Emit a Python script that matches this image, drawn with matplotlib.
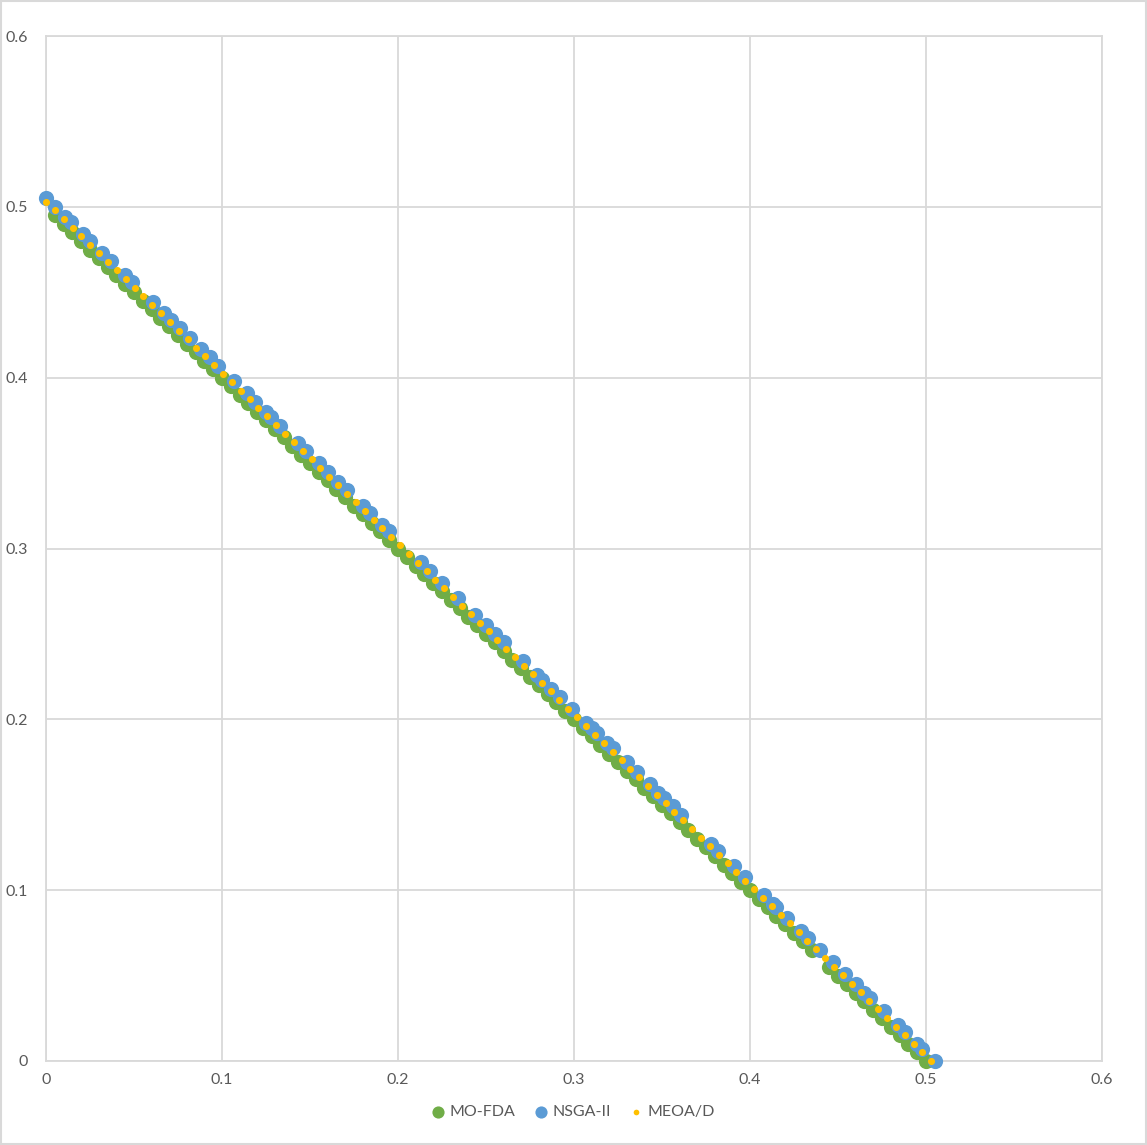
import matplotlib
matplotlib.use("Agg")
import matplotlib.pyplot as plt
from matplotlib.patches import Rectangle

# MO-FDA
mofda_x = [0.005, 0.010, 0.015, 0.020, 0.025, 0.030, 0.035, 0.040, 0.045, 0.050,
           0.055, 0.060, 0.065, 0.070, 0.075, 0.080, 0.085, 0.090, 0.095, 0.100,
           0.105, 0.110, 0.115, 0.120, 0.125, 0.130, 0.135, 0.140, 0.145, 0.150,
           0.155, 0.160, 0.165, 0.170, 0.175, 0.180, 0.185, 0.190, 0.195, 0.200,
           0.205, 0.210, 0.215, 0.220, 0.225, 0.230, 0.235, 0.240, 0.245, 0.250,
           0.255, 0.260, 0.265, 0.270, 0.275, 0.280, 0.285, 0.290, 0.295, 0.300,
           0.305, 0.310, 0.315, 0.320, 0.325, 0.330, 0.335, 0.340, 0.345, 0.350,
           0.355, 0.360, 0.365, 0.370, 0.375, 0.380, 0.385, 0.390, 0.395, 0.400,
           0.405, 0.410, 0.415, 0.420, 0.425, 0.430, 0.435, 0.445, 0.450,
           0.455, 0.460, 0.465, 0.470, 0.475, 0.480, 0.485, 0.490, 0.495, 0.500]
mofda_y = [0.495, 0.490, 0.485, 0.480, 0.475, 0.470, 0.465, 0.460, 0.455, 0.450,
           0.445, 0.440, 0.435, 0.430, 0.425, 0.420, 0.415, 0.410, 0.405, 0.400,
           0.395, 0.390, 0.385, 0.380, 0.375, 0.370, 0.365, 0.360, 0.355, 0.350,
           0.345, 0.340, 0.335, 0.330, 0.325, 0.320, 0.315, 0.310, 0.305, 0.300,
           0.295, 0.290, 0.285, 0.280, 0.275, 0.270, 0.265, 0.260, 0.255, 0.250,
           0.245, 0.240, 0.235, 0.230, 0.225, 0.220, 0.215, 0.210, 0.205, 0.200,
           0.195, 0.190, 0.185, 0.180, 0.175, 0.170, 0.165, 0.160, 0.155, 0.150,
           0.145, 0.140, 0.135, 0.130, 0.125, 0.120, 0.115, 0.110, 0.105, 0.100,
           0.095, 0.090, 0.085, 0.080, 0.075, 0.070, 0.065, 0.055, 0.050,
           0.045, 0.040, 0.035, 0.030, 0.025, 0.020, 0.015, 0.010, 0.005, 0.000]

# NSGA-II
nsga_x = [0.000, 0.005, 0.011, 0.014, 0.021, 0.025, 0.032, 0.037, 0.045, 0.049,
          0.061, 0.067, 0.071, 0.076, 0.082, 0.088, 0.093, 0.098,
          0.107, 0.114, 0.119, 0.125, 0.128, 0.133, 0.143, 0.148, 0.155, 0.160,
          0.166, 0.171, 0.180, 0.184, 0.191, 0.195,
          0.213, 0.218, 0.225, 0.234, 0.244, 0.250, 0.255, 0.260, 0.271, 0.279,
          0.282, 0.287, 0.292, 0.299,
          0.307, 0.310, 0.313, 0.319, 0.322, 0.330, 0.336, 0.343, 0.348, 0.351,
          0.356, 0.361, 0.378, 0.382, 0.391, 0.397,
          0.408, 0.413, 0.415, 0.421, 0.429, 0.433, 0.440, 0.447, 0.454, 0.460,
          0.465, 0.468, 0.476, 0.484, 0.488, 0.495, 0.498, 0.505]
nsga_y = [0.505, 0.500, 0.494, 0.491, 0.484, 0.480, 0.473, 0.468, 0.460, 0.456,
          0.444, 0.438, 0.434, 0.429, 0.423, 0.417, 0.412, 0.407,
          0.398, 0.391, 0.386, 0.380, 0.377, 0.372, 0.362, 0.357, 0.350, 0.345,
          0.339, 0.334, 0.325, 0.321, 0.314, 0.310,
          0.292, 0.287, 0.280, 0.271, 0.261, 0.255, 0.250, 0.245, 0.234, 0.226,
          0.223, 0.218, 0.213, 0.206,
          0.198, 0.195, 0.192, 0.186, 0.183, 0.175, 0.169, 0.162, 0.157, 0.154,
          0.149, 0.144, 0.127, 0.123, 0.114, 0.108,
          0.097, 0.092, 0.090, 0.084, 0.076, 0.072, 0.065, 0.058, 0.051, 0.045,
          0.040, 0.037, 0.029, 0.021, 0.017, 0.010, 0.007, 0.000]

# MEOA/D
meoad_x = [0.0000, 0.0050, 0.0101, 0.0151, 0.0201, 0.0252, 0.0302, 0.0352, 0.0402, 0.0453,
           0.0503, 0.0553, 0.0604, 0.0654, 0.0704, 0.0755, 0.0805, 0.0855, 0.0905, 0.0956,
           0.1006, 0.1056, 0.1107, 0.1157, 0.1207, 0.1258, 0.1308, 0.1358, 0.1408, 0.1459,
           0.1509, 0.1559, 0.1610, 0.1660, 0.1710, 0.1761, 0.1811, 0.1861, 0.1911, 0.1962,
           0.2012, 0.2062, 0.2113, 0.2163, 0.2213, 0.2264, 0.2314, 0.2364, 0.2414, 0.2465,
           0.2515, 0.2565, 0.2616, 0.2666, 0.2716, 0.2767, 0.2817, 0.2867, 0.2917, 0.2968,
           0.3018, 0.3068, 0.3119, 0.3169, 0.3219, 0.3270, 0.3320, 0.3370, 0.3420, 0.3471,
           0.3521, 0.3571, 0.3622, 0.3672, 0.3722, 0.3773, 0.3823, 0.3873, 0.3923, 0.3974,
           0.4024, 0.4074, 0.4125, 0.4175, 0.4225, 0.4276, 0.4326, 0.4376, 0.4426, 0.4477,
           0.4527, 0.4577, 0.4628, 0.4678, 0.4728, 0.4779, 0.4829, 0.4879, 0.4929, 0.4980,
           0.5030]
meoad_y = [0.5030, 0.4980, 0.4929, 0.4879, 0.4829, 0.4779, 0.4728, 0.4678, 0.4628, 0.4577,
           0.4527, 0.4477, 0.4426, 0.4376, 0.4326, 0.4276, 0.4225, 0.4175, 0.4125, 0.4074,
           0.4024, 0.3974, 0.3923, 0.3873, 0.3823, 0.3773, 0.3722, 0.3672, 0.3622, 0.3571,
           0.3521, 0.3471, 0.3420, 0.3370, 0.3320, 0.3270, 0.3219, 0.3169, 0.3119, 0.3068,
           0.3018, 0.2968, 0.2917, 0.2867, 0.2817, 0.2767, 0.2716, 0.2666, 0.2616, 0.2565,
           0.2515, 0.2465, 0.2414, 0.2364, 0.2314, 0.2264, 0.2213, 0.2163, 0.2113, 0.2062,
           0.2012, 0.1962, 0.1911, 0.1861, 0.1811, 0.1761, 0.1710, 0.1660, 0.1610, 0.1559,
           0.1509, 0.1459, 0.1408, 0.1358, 0.1308, 0.1258, 0.1207, 0.1157, 0.1107, 0.1056,
           0.1006, 0.0956, 0.0905, 0.0855, 0.0805, 0.0755, 0.0704, 0.0654, 0.0604, 0.0553,
           0.0503, 0.0453, 0.0402, 0.0352, 0.0302, 0.0252, 0.0201, 0.0151, 0.0101, 0.0050,
           0.0000]

ticks = [0, 0.1, 0.2, 0.3, 0.4, 0.5, 0.6]
tick_labels = ["0", "0.1", "0.2", "0.3", "0.4", "0.5", "0.6"]

plt.rcParams['font.family'] = ['Lato', 'DejaVu Sans']

fig = plt.figure(figsize=(11.47, 11.45), dpi=100)
ax = fig.add_axes([46/1147, 84/1145, 1056/1147, 1025/1145])

grid_c = '#d9d9d9'
ax.scatter(mofda_x, mofda_y, s=120, color='#70AD47', linewidths=0, label='MO-FDA', zorder=3, clip_on=False)
ax.scatter(nsga_x, nsga_y, s=120, color='#5B9BD5', linewidths=0, label='NSGA-II', zorder=4, clip_on=False)
ax.scatter(meoad_x, meoad_y, s=26, color='#FFC000', linewidths=0, label='MEOA/D', zorder=5, clip_on=False)

ax.set_xlim(0, 0.6)
ax.set_ylim(0, 0.6)
ax.set_xticks(ticks)
ax.set_yticks(ticks)
ax.set_xticklabels(tick_labels)
ax.set_yticklabels(tick_labels)
ax.grid(True, color=grid_c, linewidth=1.3, zorder=0)
ax.set_axisbelow(True)
for s in ax.spines.values():
    s.set_color(grid_c)
    s.set_linewidth(1.3)
ax.tick_params(axis='both', length=0, colors='#595959', labelsize=11.5)
ax.tick_params(axis='y', pad=13)
ax.tick_params(axis='x', pad=9)

leg = fig.legend(loc='center', bbox_to_anchor=(0.5, 0.029), ncol=3, frameon=False,
                 fontsize=11.5, handlelength=0.8, handletextpad=0.3,
                 columnspacing=1.2, markerscale=0.8)
for t in leg.get_texts():
    t.set_color('#595959')

fig.patches.append(Rectangle((0.001, 0.001), 0.998, 0.998, transform=fig.transFigure,
                             fill=False, edgecolor=grid_c, linewidth=1.5))

fig.savefig('out.png', dpi=100)
